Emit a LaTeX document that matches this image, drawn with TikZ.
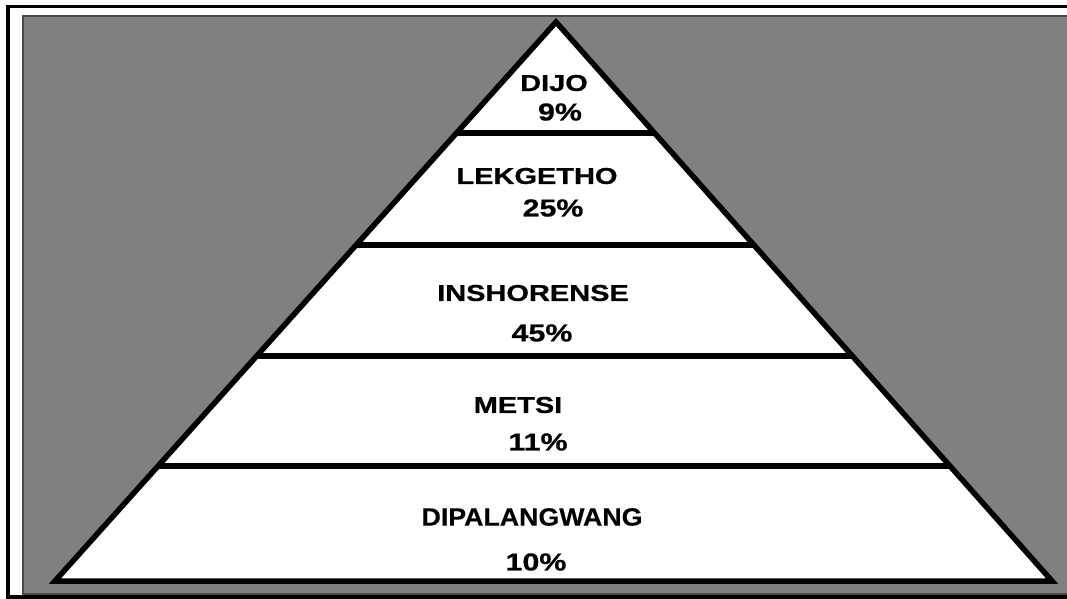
\documentclass[tikz,border=0pt]{standalone}
\usepackage{fontspec}
\newfontfamily\widefont{Liberation Sans}[FakeStretch=1.26,FakeBold=0.8]
\newfontfamily\pctfont{Liberation Sans}[FakeStretch=1.24,FakeBold=0.6]
\newfontfamily\midfont{Liberation Sans}[FakeStretch=1.07,FakeBold=0.3]
\usetikzlibrary{calc}
\definecolor{bggray}{HTML}{808080}
\definecolor{edgegray}{HTML}{4A4A4A}
\begin{document}
\begin{tikzpicture}[x=1pt,y=-1pt,
  lbl/.style={inner sep=0pt, font=\widefont\bfseries\fontsize{23}{23}\selectfont},
  pct/.style={inner sep=0pt, font=\pctfont\bfseries\fontsize{24.5}{24.5}\selectfont},
  lblb/.style={inner sep=0pt, font=\midfont\bfseries\fontsize{25}{25}\selectfont},
  tier/.style={line width=5.5pt, line cap=butt},
  pyr/.style={line width=5.5pt, fill=white, line join=miter}]
\useasboundingbox (0,0) rectangle (1067,598);
% outer frame
\draw[line width=3.5pt] (8,6.5) rectangle (1080,597);
% gray background
\draw[fill=bggray, draw=edgegray, line width=1.5pt] (23,16) rectangle (1080,594);
% pyramid
\coordinate (A) at (556,22);
\coordinate (L) at (55,581);
\coordinate (R) at (1052,581);
\draw[pyr] (A) -- (R) -- (L) -- cycle;
% tier dividers
\coordinate (l1) at ($(A)!0.1986!(L)$); \coordinate (r1) at ($(A)!0.1986!(R)$);
\coordinate (l2) at ($(A)!0.3989!(L)$); \coordinate (r2) at ($(A)!0.3989!(R)$);
\coordinate (l3) at ($(A)!0.5975!(L)$); \coordinate (r3) at ($(A)!0.5975!(R)$);
\coordinate (l4) at ($(A)!0.7943!(L)$); \coordinate (r4) at ($(A)!0.7943!(R)$);
\draw[tier] (l1) -- (r1);
\draw[tier] (l2) -- (r2);
\draw[tier] (l3) -- (r3);
\draw[tier] (l4) -- (r4);
% labels
\node[lbl] (t1) at (554,83) {DIJO};
\node[pct] (p1) at (560,112) {9\%};
\node[lbl] (t2) at (537,176) {LEKGETHO};
\node[pct] (p2) at (553,208) {25\%};
\node[lbl] (t3) at (533,293) {INSHORENSE};
\node[pct] (p3) at (542,333) {45\%};
\node[lbl] (t4) at (518,405) {METSI};
\node[pct] (p4) at (538,442) {11\%};
\node[lblb] (t5) at (532,517) {DIPALANGWANG};
\node[pct] (p5) at (536,562) {10\%};
\end{tikzpicture}
\end{document}
